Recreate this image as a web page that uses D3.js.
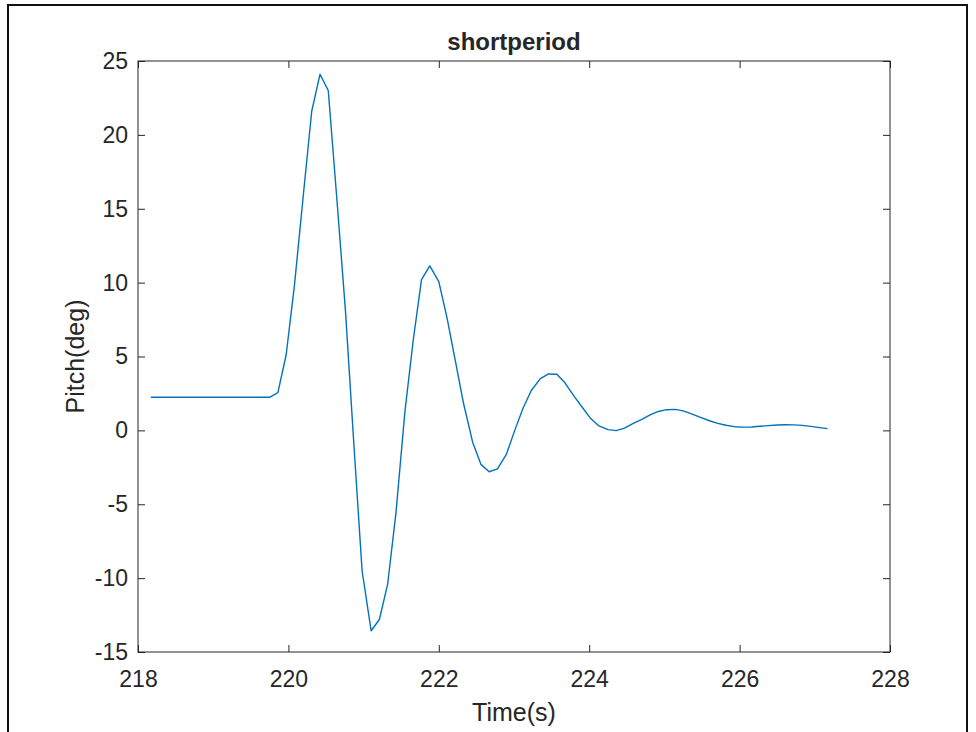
<!DOCTYPE html>
<html>
<head>
<meta charset="utf-8">
<script src="https://cdn.jsdelivr.net/npm/d3@7"></script>
<style>
  html, body { margin: 0; padding: 0; background: #fff; }
  svg { display: block; }
  text { font-family: Arial, "Liberation Sans", Helvetica, sans-serif; fill: #262626; }
</style>
</head>
<body>
<svg id="chart" width="976" height="732"></svg>
<script>
// Sample times (s)
const time = [
  218.17, 218.28, 218.40, 218.51, 218.62, 218.73, 218.85, 218.96, 219.07, 219.18,
  219.30, 219.41, 219.52, 219.63, 219.75, 219.86, 219.97, 220.08, 220.20, 220.31,
  220.42, 220.53, 220.65, 220.76, 220.87, 220.98, 221.10, 221.21, 221.32, 221.43,
  221.55, 221.66, 221.77, 221.88, 222.00, 222.11, 222.22, 222.33, 222.45, 222.56,
  222.67, 222.78, 222.90, 223.01, 223.12, 223.23, 223.35, 223.46, 223.57, 223.68,
  223.80, 223.91, 224.02, 224.13, 224.25, 224.36, 224.47, 224.58, 224.70, 224.81,
  224.92, 225.03, 225.15, 225.26, 225.37, 225.48, 225.60, 225.71, 225.82, 225.93,
  226.05, 226.16, 226.27, 226.38, 226.50, 226.61, 226.72, 226.83, 226.95, 227.06,
  227.17
];

// Pitch angle (deg) at each sample
const pitch = [
  2.24, 2.24, 2.24, 2.24, 2.24, 2.24, 2.24, 2.24, 2.24, 2.24,
  2.24, 2.24, 2.24, 2.24, 2.24, 2.55, 5.1, 9.8, 16.0, 21.6,
  24.1, 23.0, 15.3, 8.0, -0.9, -9.5, -13.56, -12.8, -10.4, -5.6,
  1.3, 6.1, 10.2, 11.13, 10.07, 7.6, 4.7, 1.8, -0.8, -2.3,
  -2.8, -2.6, -1.6, 0.0, 1.5, 2.7, 3.5, 3.82, 3.8, 3.2,
  2.3, 1.55, 0.8, 0.3, 0.05, -0.02, 0.15, 0.45, 0.75, 1.05,
  1.28, 1.4, 1.42, 1.3, 1.1, 0.88, 0.65, 0.47, 0.35, 0.25,
  0.22, 0.23, 0.28, 0.32, 0.36, 0.38, 0.37, 0.34, 0.27, 0.19,
  0.12
];

const xTicks = [218, 220, 222, 224, 226, 228];
const yTicks = [-15, -10, -5, 0, 5, 10, 15, 20, 25];

const titleText = "shortperiod";
const xLabelText = "Time(s)";
const yLabelText = "Pitch(deg)";

const svg = d3.select("#chart");
const plotLeft = 138, plotRight = 890, plotTop = 61, plotBottom = 652;
const axisColor = "#262626";
const tickLen = 7;

const x = d3.scaleLinear().domain([218, 228]).range([plotLeft, plotRight]);
const y = d3.scaleLinear().domain([-15, 25]).range([plotBottom, plotTop]);

// Outer frame around the figure
svg.append("path")
  .attr("d", "M8,740 V5 H967 V740")
  .attr("fill", "none")
  .attr("stroke", "#111")
  .attr("stroke-width", 2);

// Plot box
svg.append("rect")
  .attr("x", plotLeft).attr("y", plotTop)
  .attr("width", plotRight - plotLeft).attr("height", plotBottom - plotTop)
  .attr("fill", "#fff")
  .attr("stroke", axisColor).attr("stroke-width", 1);

// Bottom and left axes with inward ticks
const xAxis = d3.axisBottom(x).tickValues(xTicks).tickFormat(d3.format("d"))
  .tickSizeInner(-tickLen).tickSizeOuter(0).tickPadding(19);
const gx = svg.append("g").attr("transform", `translate(0,${plotBottom})`).call(xAxis);

const yAxis = d3.axisLeft(y).tickValues(yTicks).tickFormat(d => String(d))
  .tickSizeInner(-tickLen).tickSizeOuter(0).tickPadding(10);
const gy = svg.append("g").attr("transform", `translate(${plotLeft},0)`).call(yAxis);

// Mirrored ticks on top and right sides
const gt = svg.append("g").attr("transform", `translate(0,${plotTop})`)
  .call(d3.axisTop(x).tickValues(xTicks).tickSizeInner(-tickLen).tickSizeOuter(0).tickFormat(""));
const gr = svg.append("g").attr("transform", `translate(${plotRight},0)`)
  .call(d3.axisRight(y).tickValues(yTicks).tickSizeInner(-tickLen).tickSizeOuter(0).tickFormat(""));

[gx, gy, gt, gr].forEach(g => {
  g.select(".domain").remove();
  g.selectAll(".tick line").attr("stroke", axisColor).attr("stroke-width", 1);
  g.selectAll(".tick text")
    .attr("fill", axisColor)
    .style("font-size", "23px")
    .style("font-family", "Arial, 'Liberation Sans', Helvetica, sans-serif");
});
gx.selectAll(".tick text").attr("dy", "0.71em");

// Pitch response line
const line = d3.line().x((d, i) => x(time[i])).y(d => y(d));
svg.append("path")
  .datum(pitch)
  .attr("d", line)
  .attr("fill", "none")
  .attr("stroke", "#0072BD")
  .attr("stroke-width", 1.4)
  .attr("stroke-linejoin", "round");

// Title and axis labels
svg.append("text")
  .attr("x", (plotLeft + plotRight) / 2).attr("y", 50)
  .attr("text-anchor", "middle")
  .style("font-size", "24px").style("font-weight", "bold")
  .attr("fill", "#000")
  .text(titleText);

svg.append("text")
  .attr("x", (plotLeft + plotRight) / 2).attr("y", 721)
  .attr("text-anchor", "middle")
  .style("font-size", "25px")
  .text(xLabelText);

svg.append("text")
  .attr("transform", `translate(84,${(plotTop + plotBottom) / 2}) rotate(-90)`)
  .attr("text-anchor", "middle")
  .style("font-size", "25px")
  .text(yLabelText);
</script>
</body>
</html>
